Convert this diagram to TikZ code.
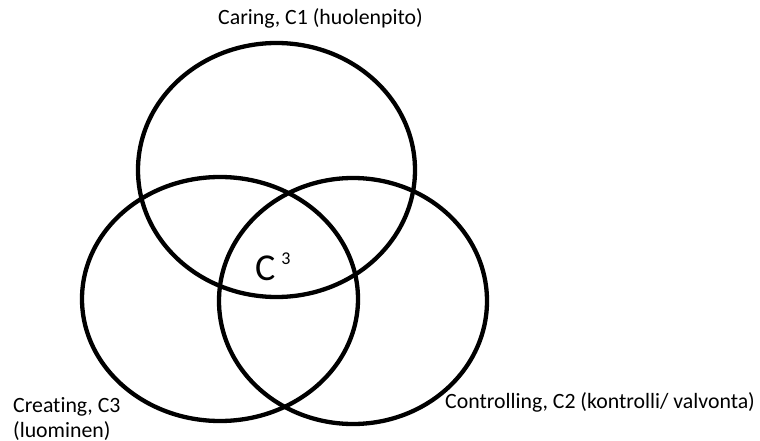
\documentclass[tikz,border=0pt]{standalone}
\usepackage{fontspec}
\setmainfont{Carlito}[Ligatures=NoCommon]
\begin{document}
\begin{tikzpicture}[x=1pt,y=-1pt,
  ring/.style={draw=black,line width=4.3pt},
  lbl/.style={inner sep=0pt,anchor=base west,font=\fontsize{21.8}{24}\selectfont}]
\useasboundingbox (0,0) rectangle (760,441);
% the three overlapping sets
\draw[ring] (276.5,170) ellipse [x radius=138.5, y radius=127];
\draw[ring] (220,299) ellipse [x radius=138, y radius=122];
\draw[ring] (353,301) ellipse [x radius=134, y radius=123];
% labels
\node[lbl] (caring) at (218,25) {Caring, C1 (huolenpito)};
\node[lbl] (creating) at (13,412) {Creating, C3};
\node[lbl] (creating2) at (13,437) {(luominen)};
\node[lbl] (controlling) at (445,408) {Controlling, C2 (kontrolli/ valvonta)};
\node[inner sep=0pt,anchor=base west,font=\fontsize{38}{40}\selectfont] (core) at (255,280)
  {C\hspace{6pt}\raisebox{16pt}{\fontsize{18}{18}\selectfont 3}};
\end{tikzpicture}
\end{document}
